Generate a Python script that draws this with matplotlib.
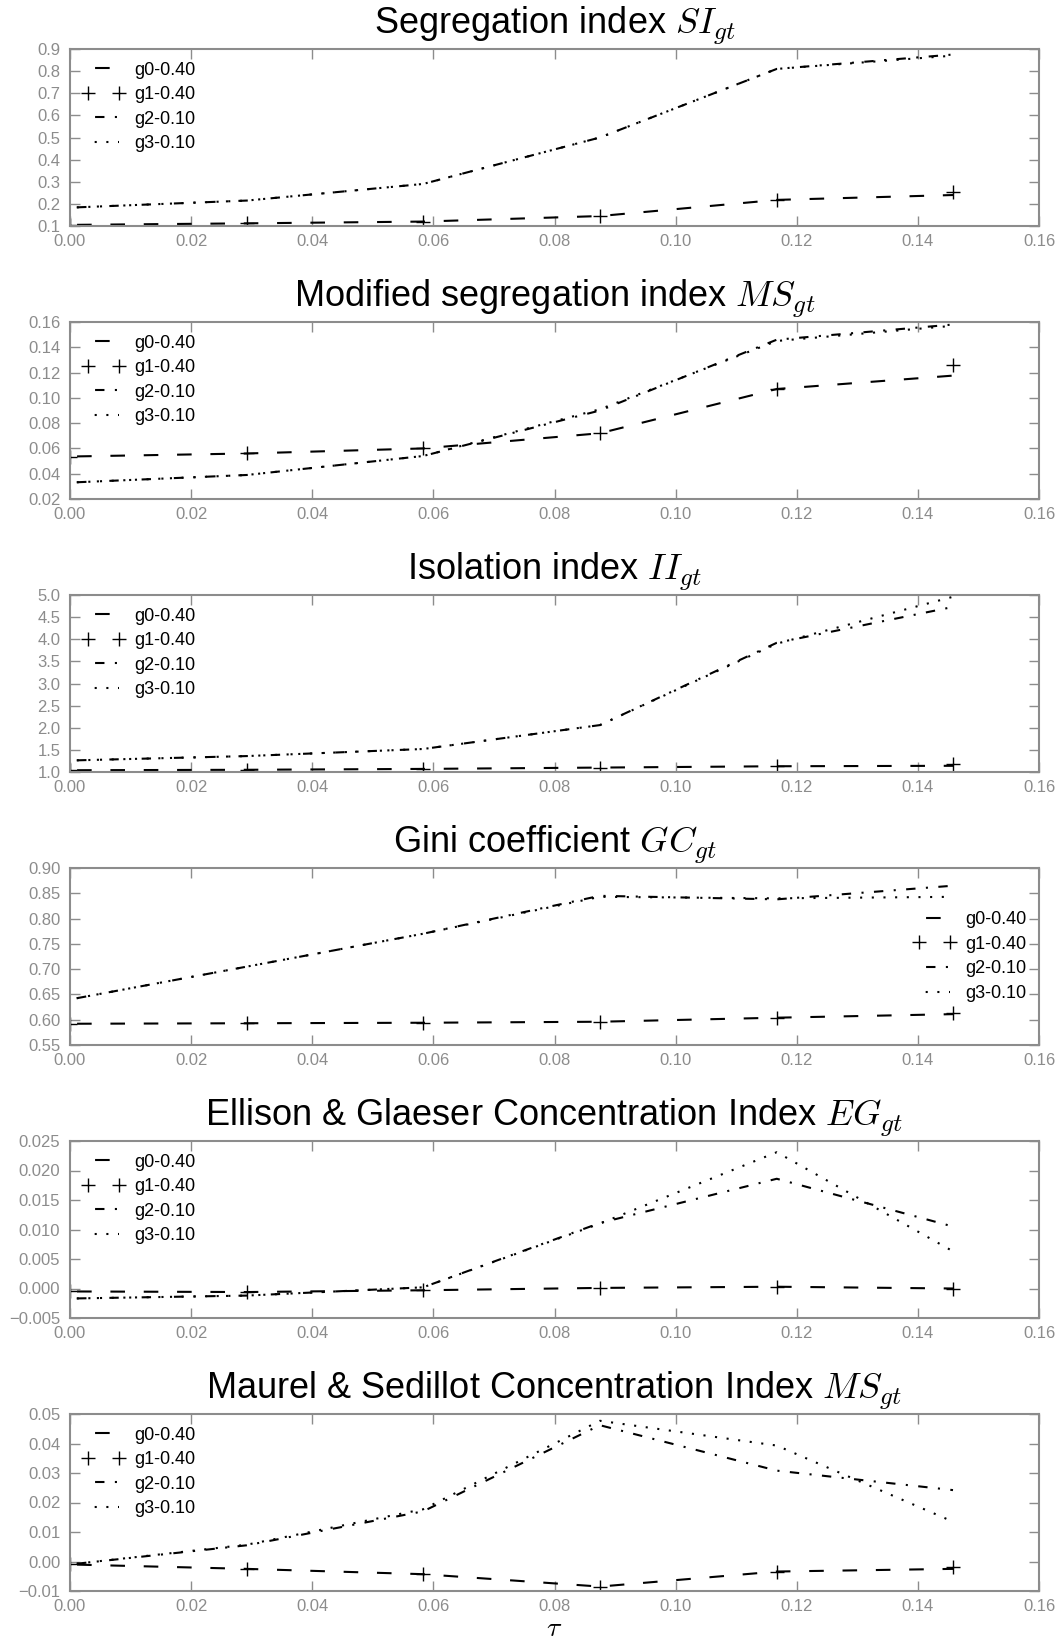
import matplotlib
matplotlib.use('Agg')
import matplotlib.pyplot as plt
from matplotlib.ticker import MultipleLocator, FormatStrFormatter

plt.rcParams['font.family'] = ['Liberation Sans', 'DejaVu Sans']
plt.rcParams['mathtext.fontset'] = 'cm'
plt.rcParams['axes.unicode_minus'] = True

tau = [0.0, 0.0292, 0.0583, 0.0875, 0.1167, 0.1458]

labels = ['g0-0.40', 'g1-0.40', 'g2-0.10', 'g3-0.10']

titles = [
    'Segregation index $SI_{gt}$',
    'Modified segregation index $MS_{gt}$',
    'Isolation index $II_{gt}$',
    'Gini coefficient $GC_{gt}$',
    'Ellison & Glaeser Concentration Index $EG_{gt}$',
    'Maurel & Sedillot Concentration Index $MS_{gt}$',
]

si_g0 = [0.105, 0.112, 0.120, 0.145, 0.218, 0.240]
si_g1 = [0.105, 0.112, 0.120, 0.145, 0.218, 0.255]
si_g2 = [0.183, 0.215, 0.290, 0.500, 0.810, 0.875]
si_g3 = [0.183, 0.215, 0.290, 0.500, 0.810, 0.870]

ms_g0 = [0.0536, 0.056, 0.060, 0.072, 0.107, 0.1176]
ms_g1 = [0.0536, 0.056, 0.060, 0.072, 0.107, 0.1256]
ms_g2 = [0.033, 0.039, 0.054, 0.090, 0.146, 0.158]
ms_g3 = [0.033, 0.039, 0.054, 0.091, 0.145, 0.157]

ii_g0 = [1.04, 1.05, 1.07, 1.10, 1.13, 1.14]
ii_g1 = [1.04, 1.05, 1.07, 1.10, 1.13, 1.17]
ii_g2 = [1.26, 1.36, 1.52, 2.06, 3.92, 4.73]
ii_g3 = [1.26, 1.36, 1.52, 2.06, 3.90, 4.96]

gc_g0 = [0.592, 0.593, 0.594, 0.596, 0.604, 0.611]
gc_g1 = [0.592, 0.593, 0.594, 0.596, 0.604, 0.614]
gc_g2 = [0.640, 0.705, 0.770, 0.845, 0.838, 0.865]
gc_g3 = [0.640, 0.705, 0.770, 0.843, 0.840, 0.843]

eg_g0 = [-0.0005, -0.0006, -0.0003, 0.0001, 0.0003, 0.0000]
eg_g1 = [-0.0005, -0.0006, -0.0003, 0.0001, 0.0003, -0.0001]
eg_g2 = [-0.0017, -0.0012, 0.0002, 0.0111, 0.0186, 0.0105]
eg_g3 = [-0.0017, -0.0012, 0.0002, 0.0110, 0.0231, 0.0063]

msc_g0 = [-0.0010, -0.0025, -0.0043, -0.0085, -0.0034, -0.0025]
msc_g1 = [-0.0010, -0.0025, -0.0043, -0.0085, -0.0034, -0.0017]
msc_g2 = [-0.0010, 0.0055, 0.0170, 0.0462, 0.0308, 0.0242]
msc_g3 = [-0.0010, 0.0057, 0.0177, 0.0477, 0.0393, 0.0135]

series = [
    (si_g0, si_g1, si_g2, si_g3),
    (ms_g0, ms_g1, ms_g2, ms_g3),
    (ii_g0, ii_g1, ii_g2, ii_g3),
    (gc_g0, gc_g1, gc_g2, gc_g3),
    (eg_g0, eg_g1, eg_g2, eg_g3),
    (msc_g0, msc_g1, msc_g2, msc_g3),
]

ylims = [(0.1, 0.9), (0.02, 0.16), (1.0, 5.0), (0.55, 0.90), (-0.005, 0.025), (-0.01, 0.05)]
ysteps = [0.1, 0.02, 0.5, 0.05, 0.005, 0.01]
yfmts = ['%.1f', '%.2f', '%.1f', '%.2f', '%.3f', '%.2f']
legend_locs = ['upper left', 'upper left', 'upper left', 'center right', 'upper left', 'upper left']

W, H = 1060, 1647
fig = plt.figure(figsize=(W / 100, H / 100), dpi=100)

gray = '#8c8c8c'
left_px, right_px = 70, 1039
tops_px = [49, 322, 595, 868, 1141, 1414]
h_px = 177


class MinusFormatter(FormatStrFormatter):
    def __call__(self, x, pos=None):
        s = super().__call__(x, pos)
        if s.startswith('-'):
            if float(s) == 0:
                s = s[1:]
            else:
                s = '\u2212' + s[1:]
        return s


for i in range(6):
    top = tops_px[i]
    ax = fig.add_axes([left_px / W, 1 - (top + h_px) / H, (right_px - left_px) / W, h_px / H])
    g0, g1, g2, g3 = series[i]
    ax.plot(tau, g0, color='black', lw=1.5, linestyle=(12.6, (7, 9)), label=labels[0])
    ax.plot(tau, g1, color='black', lw=0, marker='+', markersize=10, mew=1.0, label=labels[1])
    ax.plot(tau, g2, color='black', lw=1.5, linestyle=(12.1, (4.5, 5, 1, 5)), label=labels[2])
    ax.plot(tau, g3, color='black', lw=1.5, linestyle=(2.4, (1, 4.6)), label=labels[3])
    ax.set_xlim(0, 0.16)
    ax.set_ylim(*ylims[i])
    ax.xaxis.set_major_locator(MultipleLocator(0.02))
    ax.xaxis.set_major_formatter(FormatStrFormatter('%.2f'))
    ax.yaxis.set_major_locator(MultipleLocator(ysteps[i]))
    ax.yaxis.set_major_formatter(MinusFormatter(yfmts[i]))
    ax.tick_params(direction='in', top=True, right=True, length=7, width=1,
                   color=gray, labelcolor=gray, labelsize=12)
    ax.tick_params(axis='y', pad=7)
    ax.tick_params(axis='x', pad=6)
    for s in ax.spines.values():
        s.set_color(gray)
        s.set_linewidth(1.5)
    ax.set_title(titles[i], fontsize=26, pad=11)
    ax.legend(loc=legend_locs[i], frameon=False, fontsize=13, numpoints=2,
              handlelength=2.3, handletextpad=0.55, labelspacing=0.42,
              borderaxespad=0.3)
    if i == 5:
        ax.set_xlabel(r'$\tau$', fontsize=20, labelpad=1)

fig.savefig('out.png', dpi=100)
